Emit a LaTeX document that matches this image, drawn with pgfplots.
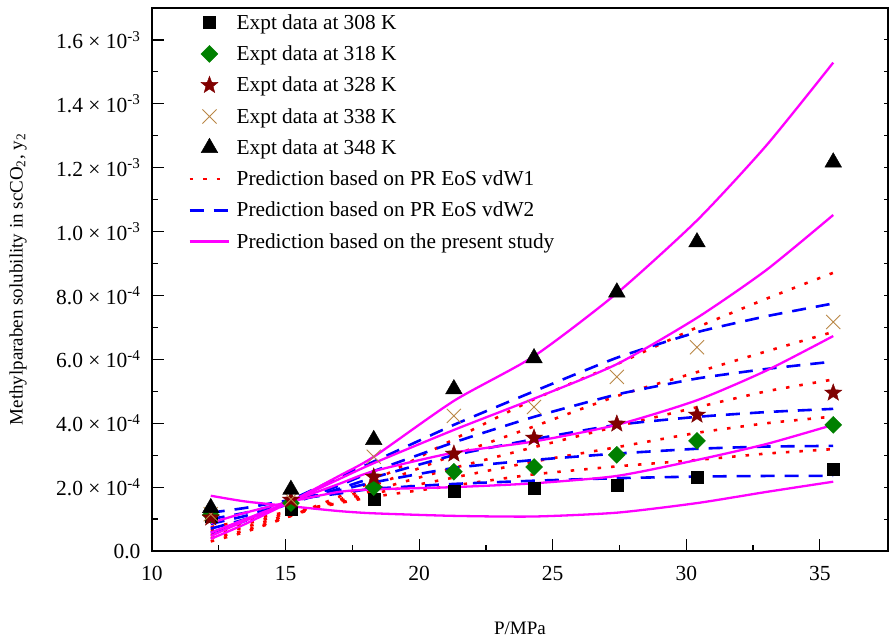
\documentclass[border=0pt]{standalone}
\usepackage{pgfplots}
\pgfplotsset{compat=1.18}
\usepackage{fontspec}
\setmainfont{Liberation Serif}
\usetikzlibrary{plotmarks}
\newcommand\ff{\fontsize{19}{23}\selectfont}
\newcommand\ft{\fontsize{21.5}{25}\selectfont}
\newcommand\fl{\fontsize{21.3}{25}\selectfont}
\definecolor{mag}{RGB}{255,0,255}
\definecolor{dgreen}{RGB}{0,128,0}
\definecolor{dred}{RGB}{128,0,0}
\definecolor{brn}{RGB}{185,135,70}
\pgfdeclareplotmark{fivestar}{%
 \pgfpathmoveto{\pgfpointpolar{90}{\pgfplotmarksize}}%
 \pgfpathlineto{\pgfpointpolar{126}{0.42\pgfplotmarksize}}%
 \pgfpathlineto{\pgfpointpolar{162}{\pgfplotmarksize}}%
 \pgfpathlineto{\pgfpointpolar{198}{0.42\pgfplotmarksize}}%
 \pgfpathlineto{\pgfpointpolar{234}{\pgfplotmarksize}}%
 \pgfpathlineto{\pgfpointpolar{270}{0.42\pgfplotmarksize}}%
 \pgfpathlineto{\pgfpointpolar{306}{\pgfplotmarksize}}%
 \pgfpathlineto{\pgfpointpolar{342}{0.42\pgfplotmarksize}}%
 \pgfpathlineto{\pgfpointpolar{18}{\pgfplotmarksize}}%
 \pgfpathlineto{\pgfpointpolar{54}{0.42\pgfplotmarksize}}%
 \pgfpathclose
 \pgfusepathqfillstroke}
\pgfplotsset{
 mleg/.style={legend image code/.code={\path (-0.4cm,0cm) (1.0cm,0cm);\draw[mark repeat=2,mark phase=2,##1] plot coordinates {(0cm,0cm) (0.3cm,0cm) (0.6cm,0cm)};}},
 lleg/.style={legend image code/.code={\draw[##1] (-0.4cm,0cm) -- (1.0cm,0cm);}},
 rd/.style={color=red, line width=2.6pt, dash pattern=on 3.5pt off 10pt, smooth, tension=0.3, lleg},
 bd/.style={color=blue, line width=2.6pt, dash pattern=on 14pt off 10pt, smooth, tension=0.3, lleg},
 pk/.style={color=mag, line width=2.3pt, solid, smooth, tension=0.4, lleg},
}
\begin{document}
\begin{tikzpicture}
\useasboundingbox (-152pt,-90pt) rectangle (739pt,551pt);
\begin{axis}[
 scale only axis, width=736pt, height=543pt,
 xmin=10, xmax=37.55, ymin=0, ymax=1.7e-3,
 xtick={10,15,20,25,30,35}, minor x tick num=1,
 ytick={0,2e-4,4e-4,6e-4,8e-4,1e-3,1.2e-3,1.4e-3,1.6e-3},
 minor y tick num=1,
 yticklabels={0.0,{2.0 × 10\textsuperscript{-4}},{4.0 × 10\textsuperscript{-4}},{6.0 × 10\textsuperscript{-4}},{8.0 × 10\textsuperscript{-4}},{1.0 × 10\textsuperscript{-3}},{1.2 × 10\textsuperscript{-3}},{1.4 × 10\textsuperscript{-3}},{1.6 × 10\textsuperscript{-3}}},
 scaled y ticks=false,
 tick align=inside, xtick pos=bottom, ytick pos=left,
 major tick length=12pt, minor tick length=6pt,
 axis line style={line width=1.2pt},
 every tick/.style={black, line width=1.2pt},
 tick label style={font=\ft},
 /pgf/number format/assume math mode=true,
 xticklabel style={yshift=-12pt},
 yticklabel style={xshift=-8pt},
 xlabel={P/MPa},
 ylabel={Methylparaben solubility in scCO\textsubscript{2}, y\textsubscript{2}},
 label style={font=\ff},
 xlabel style={at={(axis description cs:0.5,-0.1418)}, anchor=center},
 ylabel style={at={(axis description cs:-0.182,0.5)}, anchor=center},
 legend cell align=left,
 legend style={at={(rel axis cs:0.049,0.992)}, anchor=north west, draw=none, fill=none, font=\fl, row sep=11pt, column sep=4pt, inner sep=0pt},
]
% experimental data
\addplot[only marks, mark=square*, mark size=6pt, black, mleg] coordinates {
(12.2,1.10e-4) (15.2,1.30e-4) (18.3,1.63e-4) (21.3,1.88e-4) (24.3,1.97e-4) (27.4,2.05e-4) (30.4,2.32e-4) (35.5,2.57e-4)};
\addlegendentry{Expt data at 308 K}
\addplot[only marks, mark=square*, mark size=6pt, mark options={rotate=45}, dgreen, mleg] coordinates {
(12.2,1.13e-4) (15.2,1.50e-4) (18.3,2.00e-4) (21.3,2.48e-4) (24.3,2.63e-4) (27.4,3.01e-4) (30.4,3.45e-4) (35.5,3.95e-4)};
\addlegendentry{Expt data at 318 K}
\addplot[only marks, mark=fivestar, mark size=9pt, dred, mleg] coordinates {
(12.2,1.04e-4) (15.2,1.60e-4) (18.3,2.32e-4) (21.3,3.04e-4) (24.3,3.54e-4) (27.4,3.98e-4) (30.4,4.26e-4) (35.5,4.95e-4)};
\addlegendentry{Expt data at 328 K}
\addplot[only marks, mark=x, mark size=10pt, brn, line width=0.9pt, mleg] coordinates {
(12.2,1.15e-4) (15.2,1.62e-4) (18.3,2.95e-4) (21.3,4.23e-4) (24.3,4.51e-4) (27.4,5.45e-4) (30.4,6.38e-4) (35.5,7.17e-4)};
\addlegendentry{Expt data at 338 K}
\addplot[only marks, mark=triangle*, mark size=9.6pt, black, mleg] coordinates {
(12.2,1.35e-4) (15.2,1.92e-4) (18.3,3.48e-4) (21.3,5.07e-4) (24.3,6.04e-4) (27.4,8.10e-4) (30.4,9.67e-4) (35.5,12.17e-4)};
\addlegendentry{Expt data at 348 K}
% PR EoS vdW1 (red dotted)
\addplot[rd] coordinates {(12.2,0.30e-4) (13.5,0.60e-4) (15.2,1.10e-4) (17,1.70e-4) (18.3,2.20e-4) (21.3,3.50e-4) (24.3,4.75e-4) (27.4,5.85e-4) (30.4,7.00e-4) (33,7.90e-4) (35.5,8.71e-4)};
\addlegendentry{Prediction based on PR EoS vdW1}
\addplot[rd, forget plot] coordinates {(12.2,0.40e-4) (13.5,0.65e-4) (15.2,1.10e-4) (17,1.60e-4) (18.3,2.05e-4) (21.3,3.00e-4) (24.3,3.90e-4) (27.4,4.85e-4) (30.4,5.60e-4) (33,6.25e-4) (35.5,6.86e-4)};
\addplot[rd, forget plot] coordinates {(12.2,0.50e-4) (13.5,0.75e-4) (15.2,1.15e-4) (17,1.55e-4) (18.3,1.90e-4) (21.3,2.60e-4) (24.3,3.25e-4) (27.4,3.90e-4) (30.4,4.50e-4) (33,5.00e-4) (35.5,5.37e-4)};
\addplot[rd, forget plot] coordinates {(12.2,0.64e-4) (13.5,0.85e-4) (15.2,1.20e-4) (17,1.50e-4) (18.3,1.80e-4) (21.3,2.30e-4) (24.3,2.80e-4) (27.4,3.25e-4) (30.4,3.70e-4) (33,4.00e-4) (35.5,4.21e-4)};
\addplot[rd, forget plot] coordinates {(12.2,0.75e-4) (13.5,0.95e-4) (15.2,1.25e-4) (17,1.50e-4) (18.3,1.70e-4) (21.3,2.05e-4) (24.3,2.40e-4) (27.4,2.65e-4) (30.4,2.85e-4) (33,3.05e-4) (35.5,3.19e-4)};
% PR EoS vdW2 (blue dashed)
\addplot[bd] coordinates {(12.2,0.57e-4) (13.5,0.95e-4) (15.2,1.60e-4) (17,2.30e-4) (18.3,2.80e-4) (21.3,3.95e-4) (24.3,5.00e-4) (27.4,6.05e-4) (30.4,6.85e-4) (33,7.35e-4) (35.5,7.75e-4)};
\addlegendentry{Prediction based on PR EoS vdW2}
\addplot[bd, forget plot] coordinates {(12.2,0.70e-4) (13.5,1.00e-4) (15.2,1.50e-4) (17,2.05e-4) (18.3,2.50e-4) (21.3,3.40e-4) (24.3,4.20e-4) (27.4,4.90e-4) (30.4,5.40e-4) (33,5.70e-4) (35.5,5.93e-4)};
\addplot[bd, forget plot] coordinates {(12.2,0.85e-4) (13.5,1.10e-4) (15.2,1.50e-4) (17,1.95e-4) (18.3,2.30e-4) (21.3,3.00e-4) (24.3,3.50e-4) (27.4,3.95e-4) (30.4,4.20e-4) (33,4.35e-4) (35.5,4.45e-4)};
\addplot[bd, forget plot] coordinates {(12.2,1.00e-4) (13.5,1.20e-4) (15.2,1.55e-4) (17,1.90e-4) (18.3,2.15e-4) (21.3,2.60e-4) (24.3,2.85e-4) (27.4,3.05e-4) (30.4,3.20e-4) (33,3.27e-4) (35.5,3.29e-4)};
\addplot[bd, forget plot] coordinates {(12.2,1.20e-4) (13.5,1.35e-4) (15.2,1.60e-4) (17,1.80e-4) (18.3,1.95e-4) (21.3,2.10e-4) (24.3,2.20e-4) (27.4,2.28e-4) (30.4,2.33e-4) (33,2.35e-4) (35.5,2.35e-4)};
% present study (magenta solid)
\addplot[pk] coordinates {(12.2,0.38e-4) (13.5,0.85e-4) (15.2,1.55e-4) (17,2.35e-4) (18.3,2.95e-4) (21.3,4.70e-4) (24.3,6.10e-4) (27.4,8.07e-4) (30.4,10.35e-4) (33,12.70e-4) (35.5,15.29e-4)};
\addlegendentry{Prediction based on the present study}
\addplot[pk, forget plot] coordinates {(12.2,0.47e-4) (13.5,0.95e-4) (15.2,1.55e-4) (17,2.25e-4) (18.3,2.75e-4) (21.3,3.79e-4) (24.3,4.77e-4) (27.4,5.85e-4) (30.4,7.30e-4) (33,8.80e-4) (35.5,10.52e-4)};
\addplot[pk, forget plot] coordinates {(12.2,0.57e-4) (13.5,1.00e-4) (15.2,1.55e-4) (17,2.10e-4) (18.3,2.50e-4) (21.3,3.08e-4) (24.3,3.43e-4) (27.4,3.95e-4) (30.4,4.72e-4) (33,5.65e-4) (35.5,6.73e-4)};
\addplot[pk, forget plot] coordinates {(12.2,0.88e-4) (13.5,1.20e-4) (15.2,1.55e-4) (17,1.85e-4) (18.3,1.93e-4) (21.3,2.00e-4) (24.3,2.12e-4) (27.4,2.35e-4) (30.4,2.85e-4) (33,3.35e-4) (35.5,3.95e-4)};
\addplot[pk, forget plot] coordinates {(12.2,1.73e-4) (13.5,1.55e-4) (15.2,1.40e-4) (17,1.25e-4) (18.3,1.18e-4) (21.3,1.10e-4) (24.3,1.08e-4) (27.4,1.20e-4) (30.4,1.50e-4) (33,1.85e-4) (35.5,2.17e-4)};
\end{axis}
\begin{axis}[
 scale only axis, width=736pt, height=543pt,
 xmin=10, xmax=37.55, ymin=0, ymax=1.7e-3,
 hide x axis, axis y line*=right,
 ytick={1e-4,2e-4,3e-4,4e-4,5e-4,6e-4,7e-4,8e-4,9e-4,1e-3,1.1e-3,1.2e-3,1.3e-3,1.4e-3,1.5e-3,1.6e-3},
 yticklabels={}, scaled y ticks=false,
 tick align=inside, major tick length=4pt,
 axis line style={line width=1.2pt},
 every tick/.style={black, line width=1pt},
]
\addplot[draw=none, forget plot] coordinates {(10,0)};
\end{axis}
\end{tikzpicture}
\end{document}
